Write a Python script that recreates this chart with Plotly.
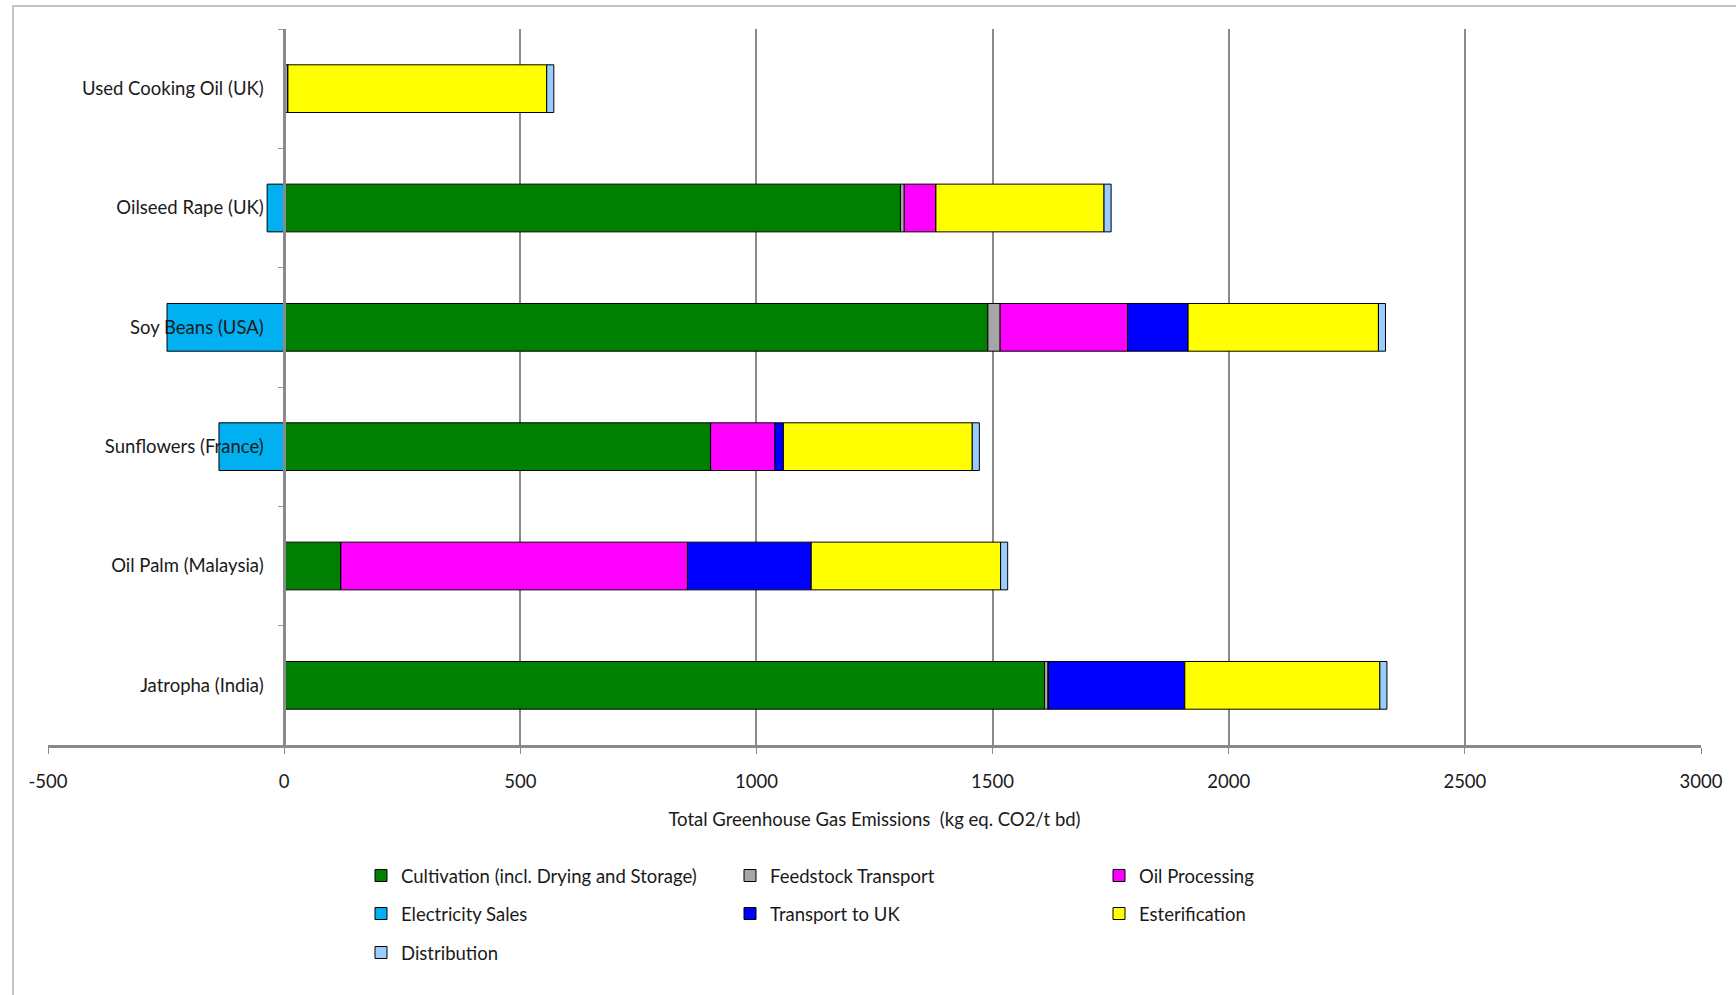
import plotly.graph_objects as go

# Feedstock pathways, listed top to bottom
categories = [
    "Used Cooking Oil (UK)",
    "Oilseed Rape (UK)",
    "Soy Beans (USA)",
    "Sunflowers (France)",
    "Oil Palm (Malaysia)",
    "Jatropha (India)",
]

# Emission contributions per stage (kg eq. CO2 / t biodiesel)
cultivation = [0, 1305, 1490, 903, 120, 1610]
feedstock_transport = [8, 8, 26, 0, 0, 8]
oil_processing = [0, 67, 270, 136, 734, 0]
electricity_sales = [0, -36, -248, -138, 0, 0]
transport_to_uk = [0, 0, 128, 18, 262, 289]
esterification = [548, 356, 403, 400, 401, 413]
distribution = [15, 15, 15, 15, 15, 15]

x_ticks = [-500, 0, 500, 1000, 1500, 2000, 2500, 3000]

series = [
    ("Cultivation (incl. Drying and Storage)", cultivation, "#008000", "legend"),
    ("Feedstock Transport", feedstock_transport, "#A6A6A6", "legend"),
    ("Oil Processing", oil_processing, "#FF00FF", "legend"),
    ("Electricity Sales", electricity_sales, "#00B0F0", "legend2"),
    ("Transport to UK", transport_to_uk, "#0000FF", "legend2"),
    ("Esterification", esterification, "#FFFF00", "legend2"),
    ("Distribution", distribution, "#99CCFF", "legend3"),
]

FONT = "Lato, Carlito, 'Liberation Sans', sans-serif"
FS = 18.5
TXT = "#1a1a1a"
W, H = 1736, 995
ML, MR, MT, MB = 48, 35, 29, 250

fig = go.Figure()
for name, vals, color, leg in series:
    fig.add_trace(go.Bar(
        y=categories, x=vals, name=name, orientation="h",
        marker=dict(color=color, line=dict(color="#000000", width=1)),
        legend=leg,
    ))

plot_h = H - MT - MB
plot_w = W - ML - MR
legend_x = (361 - ML) / plot_w
row_y = [876, 914, 953]

legend_common = dict(
    orientation="h", entrywidth=324, entrywidthmode="pixels", itemwidth=30,
    x=legend_x, xanchor="left", yanchor="middle",
    font=dict(family=FONT, size=FS, color=TXT),
    bgcolor="rgba(0,0,0,0)", traceorder="normal",
)

fig.update_layout(
    width=W, height=H,
    margin=dict(l=ML, r=MR, t=MT, b=MB),
    barmode="relative", bargap=0.6,
    plot_bgcolor="white", paper_bgcolor="white",
    font=dict(family=FONT, size=FS, color=TXT),
    legend=dict(legend_common, y=(H - MB - row_y[0]) / plot_h),
    legend2=dict(legend_common, y=(H - MB - row_y[1]) / plot_h),
    legend3=dict(legend_common, y=(H - MB - row_y[2]) / plot_h),
    xaxis=dict(
        range=[-500, 3000], tickvals=x_ticks, ticktext=[str(v) for v in x_ticks],
        showgrid=True, gridcolor="#8a8a8a", gridwidth=1.5,
        zeroline=False,
        showline=True, linecolor="#8a8a8a", linewidth=3,
        ticks="outside", ticklen=6, tickcolor="#8a8a8a",
        ticklabelstandoff=12,
        tickfont=dict(family=FONT, size=FS, color=TXT),
        title=dict(text="Total Greenhouse Gas Emissions  (kg eq. CO2/t bd)",
                   font=dict(family=FONT, size=FS, color=TXT), standoff=22),
    ),
    yaxis=dict(
        categoryorder="array", categoryarray=categories, autorange="reversed",
        anchor="free", position=500 / 3500,
        showgrid=False, zeroline=False,
        showline=True, linecolor="#8a8a8a", linewidth=2.5,
        ticks="outside", tickson="boundaries", ticklen=5, tickcolor="#9a9a9a",
        ticklabelstandoff=16,
        tickfont=dict(family=FONT, size=FS, color=TXT),
    ),
)

# Light frame around the chart area
fig.add_shape(
    type="rect", xref="paper", yref="paper",
    x0=(13 - ML) / plot_w, x1=1.1,
    y0=-0.5, y1=(H - MB - 6) / plot_h,
    line=dict(color="#c4c4c4", width=2), fillcolor="rgba(0,0,0,0)", layer="below",
)

fig.write_html("out.html")
